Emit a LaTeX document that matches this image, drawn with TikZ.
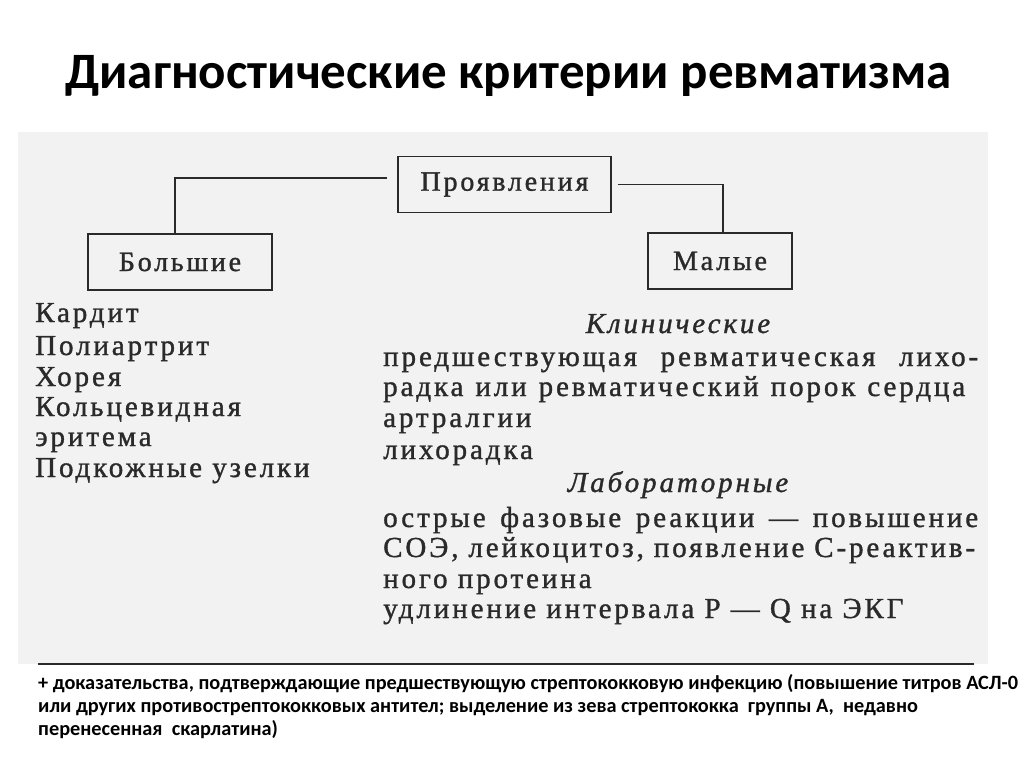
\documentclass[tikz,border=0pt]{standalone}
\usepackage{fontspec}
\setmainfont{Liberation Serif}
\newfontfamily\scanfont[LetterSpace=10,FakeBold=1.2]{Liberation Serif}
\newfontfamily\titlefont{Carlito}
\definecolor{ink}{HTML}{2A2A2A}
\definecolor{scanbg}{HTML}{F2F2F2}
\tikzset{
  pbox/.style={draw=ink, line width=1.6pt, minimum height=56pt, inner sep=0pt, font=\scanfont\fontsize{28}{30}\selectfont, text=ink},
  link/.style={draw=ink, line width=1.4pt},
  txt/.style={anchor=base west, inner sep=0pt, text=ink, font=\scanfont\fontsize{29}{30}\selectfont},
  ital/.style={anchor=base, inner sep=0pt, text=ink, font=\scanfont\itshape\fontsize{29}{30}\selectfont},
  foot/.style={anchor=base west, inner sep=0pt, font=\titlefont\bfseries\fontsize{20.3}{22}\selectfont}
}
\begin{document}
\begin{tikzpicture}[x=1pt,y=-1pt]
\useasboundingbox (0,0) rectangle (1024,767);
\fill[white] (0,0) rectangle (1024,767);
\fill[scanbg] (18,132) rectangle (988,664);
% title
\node[anchor=base west, inner sep=0pt, font=\titlefont\bfseries\fontsize{51}{55}\selectfont] (title) at (65,89) {Диагностические критерии ревматизма};
% boxes
\node[pbox, minimum width=213pt] (pr) at (504.5,184.5) {Проявления};
\node[pbox, minimum width=184pt] (bol) at (180,262) {Большие};
\node[pbox, minimum width=144pt] (mal) at (720,261) {Малые};
\draw[link, shorten <=10pt] ([yshift=6.5pt]pr.west) -| ([xshift=-5pt]bol.north);
\draw[link, shorten <=6pt] (pr.east) -| ([xshift=3pt]mal.north);
% left list
\node[txt] (l1) at (35,322) {Кардит};
\node[txt] (l2) at (35,355) {Полиартрит};
\node[txt] (l3) at (35,386) {Хорея};
\node[txt] (l4) at (35,416) {Кольцевидная};
\node[txt] (l5) at (35,446) {эритема};
\node[txt] (l6) at (35,477) {Подкожные узелки};
% right column
\node[ital] (h1) at (678,333) {Клинические};
\node[txt] (r1) at (383,366) {\makebox[595pt][s]{предшествующая ревматическая лихо-}};
\node[txt] (r2) at (383,396) {\makebox[582pt][s]{радка или ревматический порок сердца}};
\node[txt] (r3) at (383,427) {артралгии};
\node[txt] (r4) at (383,459) {лихорадка};
\node[ital] (h2) at (678,492) {Лабораторные};
\node[txt] (r5) at (383,527) {\makebox[595pt][s]{острые фазовые реакции — повышение}};
\node[txt] (r6) at (383,557) {\makebox[592pt][s]{СОЭ, лейкоцитоз, появление С-реактив-}};
\node[txt] (r7) at (383,588) {ного протеина};
\node[txt] (r8) at (383,618) {удлинение интервала Р — Q на ЭКГ};
% rule
\coordinate (ra) at (38,664);
\coordinate (rb) at (974,664);
\draw[draw=ink, line width=2.6pt] (ra) -- (rb);
% footnote
\node[foot] (f1) at (38,689) {+ доказательства, подтверждающие предшествующую стрептококковую инфекцию (повышение титров АСЛ-0};
\node[foot] (f2) at (38,712) {или других противострептококковых антител; выделение из зева стрептококка\ \ группы А,\ \ недавно};
\node[foot] (f3) at (38,735) {перенесенная\ \ скарлатина)};
\end{tikzpicture}
\end{document}
